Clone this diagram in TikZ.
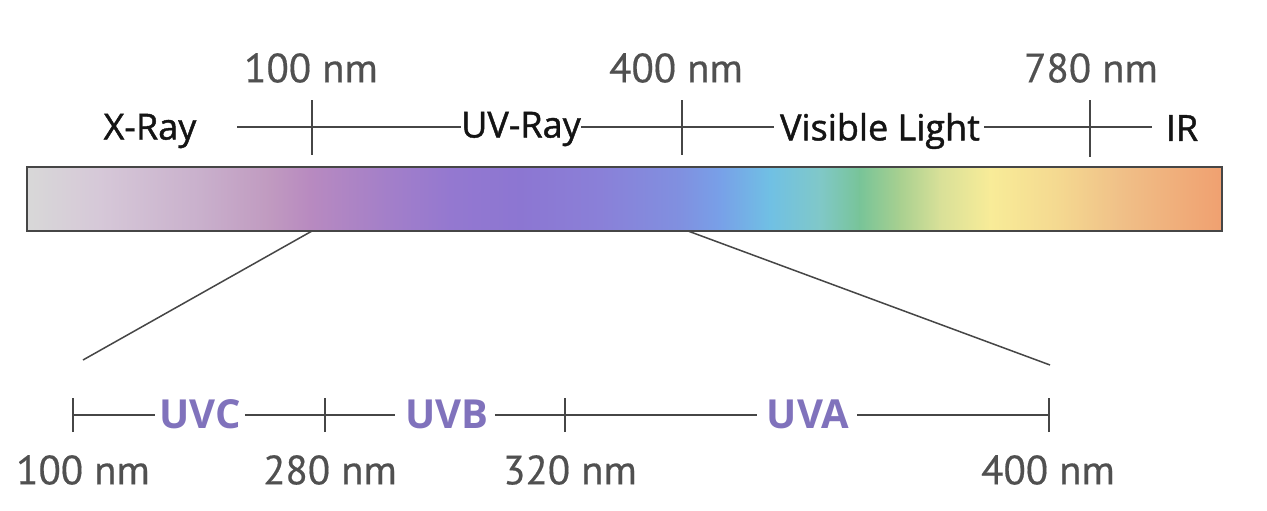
\documentclass[tikz,border=0pt]{standalone}
\usepackage{fontspec}
\setmainfont{Open Sans}
\newfontfamily\numfont{PT Sans}[FakeBold=0.4]
\newfontfamily\topfont{Open Sans}[FakeBold=1.2]
\definecolor{c0}{RGB}{216,216,216}
\definecolor{c1}{RGB}{214,200,216}
\definecolor{c2}{RGB}{201,176,204}
\definecolor{c3}{RGB}{192,154,192}
\definecolor{c4}{RGB}{184,138,192}
\definecolor{c5}{RGB}{165,128,200}
\definecolor{c6}{RGB}{148,120,208}
\definecolor{c7}{RGB}{140,118,210}
\definecolor{c8}{RGB}{138,128,216}
\definecolor{c9}{RGB}{128,144,224}
\definecolor{c10}{RGB}{120,160,232}
\definecolor{c11}{RGB}{112,192,228}
\definecolor{c12}{RGB}{128,200,200}
\definecolor{c13}{RGB}{120,196,152}
\definecolor{c14}{RGB}{168,208,144}
\definecolor{c15}{RGB}{216,224,152}
\definecolor{c16}{RGB}{248,236,152}
\definecolor{c17}{RGB}{244,216,144}
\definecolor{c18}{RGB}{240,192,136}
\definecolor{c19}{RGB}{240,160,112}
\definecolor{linec}{RGB}{70,70,70}
\definecolor{numc}{RGB}{80,80,80}
\definecolor{uvc}{RGB}{128,114,188}
\tikzset{
  ln/.style={draw=linec, line width=1.5pt},
  numlab/.style={font=\numfont\fontsize{41}{44}\selectfont, text=numc, inner sep=0pt},
  toplab/.style={font=\topfont\fontsize{36}{40}\selectfont, text=black!92, inner sep=0pt},
  uvlab/.style={font=\bfseries\fontsize{40}{44}\selectfont, text=uvc, inner sep=0pt},
}
\begin{document}
\begin{tikzpicture}[x=1pt,y=-1pt]
\useasboundingbox (0,0) rectangle (1267,511);
\fill[white] (0,0) rectangle (1267,511);
% bar
\foreach \xa/\ca/\xb/\cb in {27/c0/100/c1, 100/c1/200/c2, 200/c2/270/c3, 270/c3/310/c4, 310/c4/380/c5, 380/c5/450/c6, 450/c6/520/c7, 520/c7/600/c8, 600/c8/680/c9, 680/c9/720/c10, 720/c10/770/c11, 770/c11/820/c12, 820/c12/860/c13, 860/c13/900/c14, 900/c14/940/c15, 940/c15/990/c16, 990/c16/1060/c17, 1060/c17/1120/c18, 1120/c18/1222/c19}
  \shade[left color=\ca, right color=\cb] (\xa-0.5,167) rectangle (\xb+0.5,231);
\draw[draw=linec, line width=1.6pt] (27,167) rectangle (1222,231);
\coordinate (b100) at (312,231);
\coordinate (b400) at (688,231);
% top labels
\node[numlab] (n100) at (311,68) {100 nm};
\node[numlab] (n400) at (676,68) {400 nm};
\node[numlab] (n780) at (1091,68) {780 nm};
\node[toplab] (xray) at (150,131) {X-Ray};
\node[toplab] (uv) at (521,129) {UV-Ray};
\node[toplab] (vis) at (880,131) {Visible Light};
\node[toplab] (ir) at (1182,128) {IR};
\coordinate (tl) at (237,127);
\draw[ln] (tl) -- (uv.west |- tl);
\draw[ln] (uv.east |- tl) -- ([xshift=-6pt]vis.west |- tl);
\draw[ln] ([xshift=4pt]vis.east |- tl) -- ([xshift=-14pt]ir.west |- tl);
\draw[ln] (312,100) -- (312,155);
\draw[ln] (682,100) -- (682,155);
\draw[ln] (1090,100) -- (1090,157);
% zoom lines
\coordinate (zl) at (83,360);
\coordinate (zr) at (1050,365);
\draw[ln] (b100) -- (zl);
\draw[ln] (b400) -- (zr);
% bottom axis
\node[uvlab] (uvc) at (200,414) {UVC};
\node[uvlab] (uvb) at (447,414) {UVB};
\node[uvlab] (uva) at (808,414) {UVA};
\coordinate (t1) at (73,415);
\coordinate (t2) at (325,415);
\coordinate (t3) at (565,415);
\coordinate (t4) at (1049,415);
\draw[ln] (t1) -- ([xshift=-4pt]uvc.west |- t1);
\draw[ln] ([xshift=4pt]uvc.east |- t1) -- ([xshift=-10pt]uvb.west |- t1);
\draw[ln] ([xshift=6pt]uvb.east |- t1) -- ([xshift=-10pt]uva.west |- t1);
\draw[ln] ([xshift=8pt]uva.east |- t1) -- (t4);
\foreach \t in {t1,t2,t3,t4} \draw[ln] ([yshift=-17pt]\t) -- ([yshift=17pt]\t);
\node[numlab] (m100) at (83,470) {100 nm};
\node[numlab] (m280) at (330,470) {280 nm};
\node[numlab] (m320) at (570,470) {320 nm};
\node[numlab] (m400) at (1048,470) {400 nm};
\end{tikzpicture}
\end{document}
